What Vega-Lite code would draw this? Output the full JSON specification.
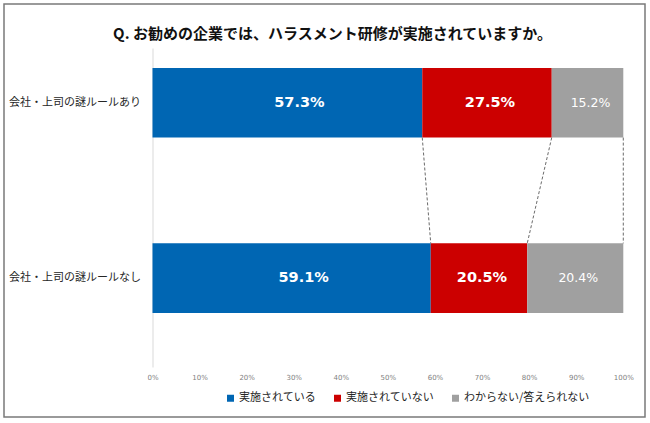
{
  "$schema": "https://vega.github.io/schema/vega-lite/v6.json",
  "width": 641,
  "height": 413,
  "autosize": {"type": "none"},
  "padding": {"left": 4, "top": 4, "right": 5, "bottom": 6},
  "background": "white",
  "title": {
    "text": "Q. お勧めの企業では、ハラスメント研修が実施されていますか。",
    "font": "Noto Sans CJK JP",
    "fontSize": 15,
    "fontWeight": "bold",
    "color": "#111111",
    "anchor": "middle",
    "baseline": "middle",
    "offset": -45,
    "dx": 8
  },
  "config": {
    "view": {"stroke": "#7a7a7a", "strokeWidth": 1.5},
    "axis": {"grid": false, "ticks": false, "title": null}
  },
  "datasets": {
    "answers": [
      {"group": "会社・上司の謎ルールあり", "answer": "実施されている", "k": 1, "share": 0.573},
      {"group": "会社・上司の謎ルールあり", "answer": "実施されていない", "k": 2, "share": 0.275},
      {"group": "会社・上司の謎ルールあり", "answer": "わからない/答えられない", "k": 3, "share": 0.152},
      {"group": "会社・上司の謎ルールなし", "answer": "実施されている", "k": 1, "share": 0.591},
      {"group": "会社・上司の謎ルールなし", "answer": "実施されていない", "k": 2, "share": 0.205},
      {"group": "会社・上司の謎ルールなし", "answer": "わからない/答えられない", "k": 3, "share": 0.204}
    ],
    "links": [
      {"from": "会社・上司の謎ルールあり", "to": "会社・上司の謎ルールなし", "top": 0.573, "bottom": 0.591},
      {"from": "会社・上司の謎ルールあり", "to": "会社・上司の謎ルールなし", "top": 0.848, "bottom": 0.796},
      {"from": "会社・上司の謎ルールあり", "to": "会社・上司の謎ルールなし", "top": 1.0, "bottom": 1.0}
    ]
  },
  "layer": [
    {
      "data": {"name": "answers"},
      "mark": {"type": "bar"},
      "encoding": {
        "y": {
          "field": "group",
          "type": "nominal",
          "scale": {
            "domain": ["会社・上司の謎ルールあり", "会社・上司の謎ルールなし"],
            "range": [44, 363],
            "paddingInner": 0.603,
            "paddingOuter": 0.2114,
            "align": 0.27
          },
          "axis": {
            "orient": "left",
            "offset": -148.5,
            "labelFont": "Noto Sans CJK JP",
            "labelFontSize": 11,
            "labelColor": "#262626",
            "labelPadding": 12,
            "domainColor": "#d9d9d9",
            "domainWidth": 1,
            "title": null
          }
        },
        "x": {
          "field": "share",
          "type": "quantitative",
          "stack": "zero",
          "scale": {"domain": [-0.31542, 1.0461], "nice": false, "zero": false},
          "axis": {
            "orient": "bottom",
            "offset": -45.5,
            "values": [0, 0.1, 0.2, 0.3, 0.4, 0.5, 0.6, 0.7, 0.8, 0.9, 1.0],
            "format": ".0%",
            "labelFont": "DejaVu Sans",
            "labelFontSize": 7,
            "labelColor": "#7f7f7f",
            "labelPadding": 2,
            "domain": false,
            "title": null
          }
        },
        "order": {"field": "k", "type": "quantitative"},
        "color": {
          "field": "answer",
          "type": "nominal",
          "scale": {
            "domain": ["実施されている", "実施されていない", "わからない/答えられない"],
            "range": ["#0066b3", "#cc0000", "#a0a0a0"]
          },
          "legend": {
            "orient": "none",
            "legendX": 221,
            "legendY": 388.5,
            "direction": "horizontal",
            "title": null,
            "padding": 0,
            "symbolType": "square",
            "symbolSize": 49,
            "symbolStrokeWidth": 0,
            "labelFont": "Noto Sans CJK JP",
            "labelFontSize": 11,
            "labelColor": "#262626",
            "labelOffset": 3,
            "columnPadding": 16
          }
        }
      }
    },
    {
      "data": {"name": "answers"},
      "mark": {
        "type": "text",
        "font": "DejaVu Sans",
        "color": "white",
        "baseline": "middle",
        "align": "center",
        "dx": {"expr": "datum.k === 1 ? 12 : 3"},
        "fontWeight": {"expr": "datum.answer === 'わからない/答えられない' ? 'normal' : 'bold'"},
        "fontSize": {"expr": "datum.answer === 'わからない/答えられない' ? 12.5 : 14.5"}
      },
      "encoding": {
        "y": {"field": "group", "type": "nominal"},
        "x": {"field": "share", "type": "quantitative", "stack": "zero", "bandPosition": 0.5},
        "order": {"field": "k", "type": "quantitative"},
        "text": {"field": "share", "type": "quantitative", "format": ".1%"}
      }
    },
    {
      "data": {"name": "links"},
      "mark": {"type": "rule", "color": "#595959", "strokeWidth": 0.9, "strokeDash": [3, 2]},
      "encoding": {
        "y": {"field": "from", "type": "nominal", "bandPosition": 1},
        "y2": {"field": "to", "bandPosition": 0},
        "x": {"field": "top", "type": "quantitative"},
        "x2": {"field": "bottom"}
      }
    }
  ]
}
